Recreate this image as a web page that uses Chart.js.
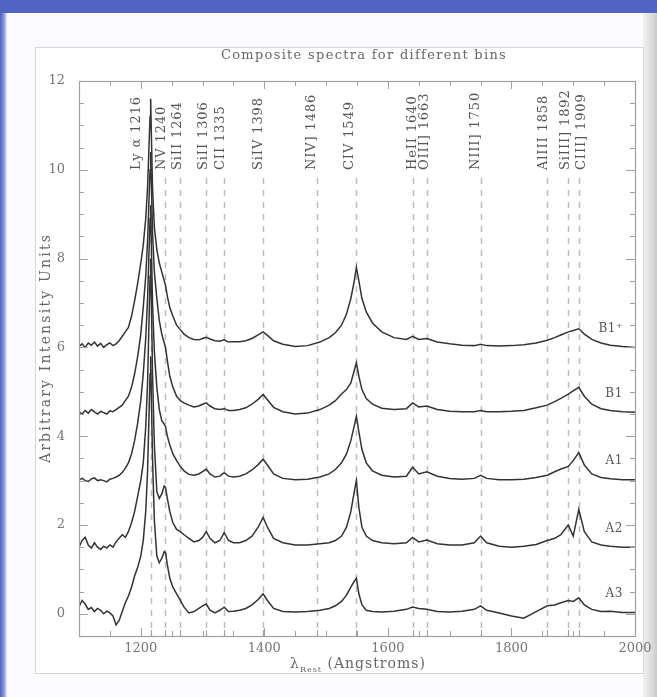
<!DOCTYPE html>
<html>
<head>
<meta charset="utf-8">
<title>Composite spectra</title>
<script src="https://cdn.jsdelivr.net/npm/chart.js@4.4.1/dist/chart.umd.min.js"></script>
<style>
html,body{margin:0;padding:0;}
body{width:657px;height:697px;position:relative;background:#fbfbfd;overflow:hidden;}
.topbar{position:absolute;left:0;top:0;width:657px;height:13px;background:#5164c1;}
.leftbar{position:absolute;left:0;top:13px;width:7px;height:684px;background:linear-gradient(to right,#4b5db9,#8f9bd6 60%,#eef0f8);}
.shadow{position:absolute;left:643px;top:13px;width:14px;height:684px;background:linear-gradient(to right,#f2f2f2,#d9d9d9 70%,#c8c8c8);}
.panel{position:absolute;left:35px;top:47px;width:607px;height:625px;border:1px solid #d6d6d6;background:#fff;}
#chart{position:absolute;left:0;top:0;}
</style>
</head>
<body>
<div class="topbar"></div>
<div class="leftbar"></div>
<div class="shadow"></div>
<div class="panel"></div>
<canvas id="chart" width="657" height="697"></canvas>
<script>
// wavelength grid (Angstroms), shared by all five composites
const wave = [
  1100,1105,1110,1115,1120,1125,1130,1135,1140,1145,1150,1155,1160,1165,1170,1175,1180,1185,1190,1195,
  1200,1204,1208,1211,1213,1215,1216,1217,1219,1222,1226,1230,1234,1238,1240,1243,1247,1252,1258,1264,
  1270,1278,1286,1294,1300,1306,1312,1320,1328,1335,1342,1350,1360,1370,1380,1390,1398,1405,1415,1430,
  1450,1470,1490,1505,1515,1525,1533,1540,1545,1549,1553,1558,1565,1575,1590,1610,1630,1640,1650,1663,
  1680,1700,1720,1740,1750,1760,1780,1800,1820,1840,1858,1870,1880,1892,1900,1909,1918,1930,1945,1960,
  1980,2000
];

// composite flux per bin, already offset for stacking
const fluxB1p = [
  6.02,6.08,6.00,6.10,6.05,6.12,6.03,6.09,6.00,6.06,6.10,6.04,6.08,6.15,6.25,6.35,6.45,6.70,7.05,7.45,
  7.90,8.30,8.90,9.60,10.4,11.2,11.6,10.9,9.60,8.70,8.20,7.90,7.70,7.50,7.40,7.15,6.90,6.70,6.50,6.40,
  6.30,6.22,6.18,6.17,6.20,6.23,6.19,6.15,6.14,6.17,6.12,6.13,6.13,6.15,6.20,6.28,6.35,6.27,6.15,6.07,
  6.02,6.04,6.12,6.22,6.33,6.50,6.75,7.10,7.45,7.80,7.50,7.10,6.80,6.55,6.35,6.22,6.18,6.25,6.18,6.20,
  6.12,6.08,6.05,6.04,6.07,6.04,6.03,6.04,6.06,6.10,6.16,6.22,6.28,6.35,6.38,6.42,6.30,6.18,6.10,6.05,
  6.02,6.00
];
const fluxB1 = [
  4.55,4.50,4.58,4.52,4.60,4.55,4.50,4.56,4.53,4.50,4.57,4.55,4.60,4.65,4.70,4.80,4.90,5.10,5.40,5.80,
  6.30,6.90,7.60,8.40,9.20,10.0,10.4,9.80,8.60,7.70,7.10,6.60,6.30,6.10,6.00,5.70,5.35,5.10,4.90,4.80,
  4.75,4.70,4.66,4.68,4.72,4.75,4.68,4.62,4.60,4.62,4.58,4.58,4.60,4.64,4.72,4.83,4.94,4.82,4.65,4.55,
  4.50,4.52,4.60,4.70,4.80,4.95,5.05,5.20,5.45,5.65,5.35,5.05,4.85,4.72,4.63,4.60,4.62,4.75,4.66,4.68,
  4.60,4.56,4.55,4.55,4.58,4.55,4.55,4.56,4.58,4.64,4.70,4.78,4.85,4.95,5.02,5.10,4.90,4.72,4.62,4.58,
  4.55,4.54
];
const fluxA1 = [
  3.02,3.05,3.00,2.98,3.04,3.06,3.00,3.02,3.00,2.97,3.03,3.05,3.08,3.12,3.18,3.28,3.40,3.60,3.90,4.30,
  4.80,5.40,6.20,7.10,8.00,8.90,9.20,8.40,7.00,5.90,5.10,4.60,4.35,4.27,4.22,4.00,3.80,3.60,3.45,3.32,
  3.22,3.14,3.12,3.15,3.20,3.26,3.15,3.08,3.10,3.18,3.10,3.08,3.10,3.15,3.24,3.36,3.48,3.35,3.15,3.05,
  3.02,3.03,3.08,3.15,3.25,3.40,3.60,3.90,4.20,4.45,4.10,3.70,3.40,3.22,3.12,3.08,3.10,3.30,3.15,3.20,
  3.10,3.05,3.03,3.05,3.12,3.05,3.02,3.02,3.03,3.07,3.12,3.20,3.26,3.32,3.45,3.63,3.35,3.15,3.07,3.04,
  3.02,3.02
];
const fluxA2 = [
  1.50,1.65,1.72,1.55,1.48,1.60,1.50,1.45,1.52,1.48,1.55,1.50,1.62,1.70,1.78,1.72,1.85,2.05,2.30,2.65,
  3.00,3.40,4.20,5.20,6.40,7.60,8.00,7.20,5.40,3.80,2.75,2.60,2.70,2.88,2.85,2.60,2.30,2.05,1.90,1.85,
  1.78,1.70,1.62,1.65,1.72,1.85,1.70,1.60,1.65,1.83,1.65,1.60,1.60,1.65,1.75,1.95,2.17,1.95,1.70,1.60,
  1.55,1.55,1.58,1.60,1.65,1.75,1.95,2.30,2.70,3.00,2.40,1.95,1.75,1.65,1.60,1.58,1.60,1.72,1.62,1.66,
  1.58,1.55,1.55,1.60,1.75,1.60,1.52,1.50,1.52,1.56,1.65,1.70,1.78,2.00,1.75,2.35,1.85,1.62,1.55,1.52,
  1.50,1.50
];
const fluxA3 = [
  0.16,0.30,0.22,0.10,0.14,0.05,0.12,0.08,0.00,0.06,0.02,-0.05,-0.25,-0.15,0.05,0.25,0.40,0.60,0.85,1.05,
  1.30,1.65,2.30,3.20,4.30,5.40,5.80,5.00,3.50,2.10,1.30,1.15,1.25,1.40,1.38,1.10,0.80,0.60,0.45,0.30,
  0.15,0.02,0.05,0.12,0.18,0.22,0.08,0.02,0.08,0.15,0.05,0.06,0.08,0.12,0.20,0.32,0.45,0.30,0.12,0.05,
  0.04,0.05,0.08,0.12,0.18,0.28,0.42,0.60,0.72,0.80,0.45,0.20,0.08,0.05,0.04,0.06,0.10,0.15,0.12,0.10,
  0.05,0.04,0.06,0.10,0.18,0.08,0.02,-0.05,-0.10,0.05,0.18,0.20,0.25,0.30,0.28,0.36,0.20,0.10,0.05,0.06,
  0.03,0.03
];

const binNames = ['B1\u207A', 'B1', 'A1', 'A2', 'A3'];
const binFlux = [fluxB1p, fluxB1, fluxA1, fluxA2, fluxA3];

// emission lines marked on the plot
const lineWaves = [1216, 1240, 1264, 1306, 1335, 1398, 1486, 1549, 1640, 1663, 1750, 1858, 1892, 1909];
const lineNames = [
  'Ly \u03B1 1216', 'NV 1240', 'SiII 1264', 'SiII 1306', 'CII 1335', 'SiIV 1398', 'NIV] 1486',
  'CIV 1549', 'HeII 1640', 'OIII] 1663', 'NIII] 1750', 'AlIII 1858', 'SiIII] 1892', 'CIII] 1909'
];

const xTicks = [1200, 1400, 1600, 1800, 2000];
const yTicks = [0, 2, 4, 6, 8, 10, 12];

// label nudges (px) so the rotated names don't collide
const labelShift = [-14, -4, -3, -3, -4, -4, -6, -7, 0, -2, -5, -4, -3, 3];

const SERIF = '"DejaVu Serif", "Liberation Serif", serif';
const INK = '#666';

// draw text with extra tracking, the plot font is wide
function spaced(ctx, text, x, y, spacing) {
  ctx.letterSpacing = spacing + 'px';
  ctx.fillText(text, x, y);
  ctx.letterSpacing = '0px';
}

const decor = {
  id: 'decor',
  beforeDatasetsDraw(chart) {
    const { ctx, chartArea: a, scales: { x } } = chart;
    ctx.save();
    ctx.strokeStyle = '#bcbcbc';
    ctx.lineWidth = 1.5;
    ctx.setLineDash([6, 6]);
    lineWaves.forEach(w => {
      const px = Math.round(x.getPixelForValue(w)) + 0.5;
      ctx.beginPath();
      ctx.moveTo(px, a.top + 97);
      ctx.lineTo(px, a.bottom);
      ctx.stroke();
    });
    ctx.restore();
  },
  afterDatasetsDraw(chart) {
    const { ctx, chartArea: a, scales: { x, y } } = chart;
    ctx.save();

    // frame
    ctx.strokeStyle = '#a0a0a0';
    ctx.lineWidth = 1.2;
    ctx.strokeRect(a.left + 0.5, a.top + 0.5, a.right - a.left, a.bottom - a.top);

    // inward ticks
    ctx.lineWidth = 1;
    ctx.beginPath();
    for (let w = 1100; w <= 2000; w += 50) {
      const px = Math.round(x.getPixelForValue(w)) + 0.5;
      const len = w % 200 === 0 ? 8 : 5;
      ctx.moveTo(px, a.top); ctx.lineTo(px, a.top + len);
      ctx.moveTo(px, a.bottom); ctx.lineTo(px, a.bottom - len);
    }
    lineWaves.forEach(w => {
      const px = Math.round(x.getPixelForValue(w)) + 0.5;
      ctx.moveTo(px, a.bottom); ctx.lineTo(px, a.bottom - 6);
    });
    for (let v = 0; v <= 12; v += 0.5) {
      const py = Math.round(y.getPixelForValue(v)) + 0.5;
      const len = v % 2 === 0 ? 9 : 5;
      ctx.moveTo(a.left, py); ctx.lineTo(a.left + len, py);
      ctx.moveTo(a.right, py); ctx.lineTo(a.right - len, py);
    }
    ctx.stroke();

    // emission line names, reading upward
    ctx.fillStyle = '#555';
    ctx.font = '13px ' + SERIF;
    ctx.textAlign = 'left';
    ctx.textBaseline = 'middle';
    lineNames.forEach((name, i) => {
      const px = x.getPixelForValue(lineWaves[i]) + labelShift[i];
      ctx.save();
      ctx.translate(px, a.top + 89);
      ctx.rotate(-Math.PI / 2);
      spaced(ctx, name, 0, 0, 0.9);
      ctx.restore();
    });

    // bin names at the right end of each curve
    ctx.font = '12px ' + SERIF;
    ctx.textAlign = 'right';
    binNames.forEach((name, i) => {
      const f = binFlux[i];
      spaced(ctx, name, a.right - 12, y.getPixelForValue(f[f.length - 1] + 0.42), 0.6);
    });

    // title
    ctx.fillStyle = INK;
    ctx.textAlign = 'center';
    ctx.font = '13px ' + SERIF;
    spaced(ctx, 'Composite spectra for different bins', 364, 56, 1.3);

    // y axis title
    ctx.save();
    ctx.translate(46, 348);
    ctx.rotate(-Math.PI / 2);
    ctx.font = '14px ' + SERIF;
    spaced(ctx, 'Arbitrary Intensity Units', 0, 0, 2.2);
    ctx.restore();

    // x axis title with subscript
    const big = '14px ' + SERIF, small = '8px ' + SERIF;
    ctx.letterSpacing = '1px';
    ctx.font = big; const wL = ctx.measureText('\u03BB').width;
    const wR = ctx.measureText(' (Angstroms)').width;
    ctx.font = small; const wS = ctx.measureText('Rest').width;
    let sx = 358 - (wL + wS + wR) / 2;
    ctx.textAlign = 'left';
    ctx.font = big; ctx.fillText('\u03BB', sx, 664); sx += wL;
    ctx.font = small; ctx.fillText('Rest', sx, 670); sx += wS;
    ctx.font = big; ctx.fillText(' (Angstroms)', sx, 664);
    ctx.letterSpacing = '0px';

    ctx.restore();
  }
};

new Chart(document.getElementById('chart'), {
  type: 'line',
  data: {
    datasets: binFlux.map((f, i) => ({
      label: binNames[i],
      data: wave.map((w, j) => ({ x: w, y: f[j] })),
      borderColor: '#333',
      borderWidth: 1.5,
      pointRadius: 0,
      tension: 0,
      fill: false
    }))
  },
  options: {
    responsive: false,
    animation: false,
    layout: { padding: { top: 81, right: 22, left: 0, bottom: 0 } },
    plugins: { legend: { display: false }, tooltip: { enabled: false } },
    scales: {
      x: {
        type: 'linear',
        min: 1100,
        max: 2000,
        grid: { display: false, drawTicks: false },
        border: { display: false },
        ticks: {
          color: '#777', font: { family: SERIF, size: 13 }, padding: 5, maxRotation: 0, autoSkip: false,
          callback: v => String(v)
        },
        afterBuildTicks: s => { s.ticks = xTicks.map(v => ({ value: v })); },
        afterFit: s => { s.height = 61; }
      },
      y: {
        type: 'linear',
        min: -0.5,
        max: 12,
        grid: { display: false, drawTicks: false },
        border: { display: false },
        ticks: { color: '#777', font: { family: SERIF, size: 13 }, padding: 14, callback: v => String(v) },
        afterBuildTicks: s => { s.ticks = yTicks.map(v => ({ value: v })); },
        afterFit: s => { s.width = 79; }
      }
    }
  },
  plugins: [decor]
});
</script>
</body>
</html>
